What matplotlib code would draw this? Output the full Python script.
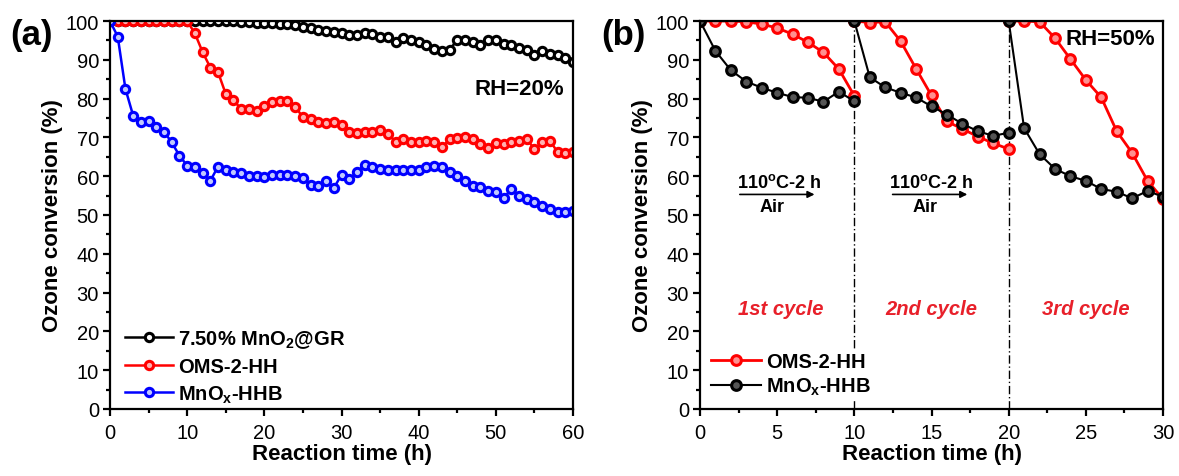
import numpy as np
import matplotlib
matplotlib.use("Agg")
from matplotlib import pyplot as plt
from matplotlib.ticker import MultipleLocator

plt.rcParams['font.family'] = ['Liberation Sans', 'DejaVu Sans']
plt.rcParams['mathtext.fontset'] = 'custom'
plt.rcParams['mathtext.bf'] = 'Liberation Sans:bold'
plt.rcParams['mathtext.rm'] = 'Liberation Sans:bold'

# ---- panel (a): RH = 20 %, hourly points 0..60 h
time_a = np.arange(0, 61)
gr_a = [100, 100, 100, 100, 100, 100, 100, 100, 100, 100,
        100, 100, 100, 100, 100, 100, 100, 99.8, 99.7, 99.6,
        99.5, 99.4, 99.2, 99.1, 99, 98.5, 98.2, 97.8, 97.5, 97.2,
        96.8, 96.3, 96.5, 96.8, 96.6, 96, 95.8, 94.7, 95.5, 95.2,
        94.6, 93.7, 92.9, 92.3, 92.5, 95.2, 95, 94.7, 93.7, 95.2,
        95, 94.2, 93.7, 93.1, 92.5, 91.2, 92.2, 91.6, 91.2, 90.5,
        89.5]
oms_a = [100, 100, 100, 100, 100, 100, 100, 100, 100, 100,
         100, 96.8, 92, 88, 86.8, 81.2, 79.6, 77.3, 77.3, 76.9,
         78, 79, 79.5, 79.4, 77.9, 75.2, 74.8, 74, 73.8, 73.9,
         73.2, 71.5, 71.2, 71.5, 71.3, 71.9, 71, 68.9, 69.6, 68.9,
         68.7, 69.2, 68.7, 67.4, 69.6, 69.8, 70, 69.6, 68.2, 67.2,
         68.6, 68.3, 68.7, 69.2, 69.6, 67, 68.7, 69.2, 66.2, 66,
         66.2]
hhb_a = [100, 96, 82.5, 75.6, 74, 74.3, 72.8, 71.5, 68.7, 65.3,
         62.7, 62.5, 60.8, 58.8, 62.5, 61.7, 61.2, 60.8, 60.1, 60,
         59.9, 60.4, 60.4, 60.3, 60, 59.5, 57.7, 57.6, 58.8, 56.9,
         60.4, 59.3, 61, 63, 62.3, 61.9, 61.7, 61.7, 61.7, 61.7,
         61.7, 62.3, 62.7, 62.3, 61.2, 60.1, 58.8, 57.6, 57.2, 56.3,
         55.9, 54.3, 56.7, 55, 54.1, 53.3, 52.4, 51.5, 50.7, 50.7,
         51]

# ---- panel (b): RH = 50 %, three regeneration cycles (NaN = break between cycles)
time_b = [0, 1, 2, 3, 4, 5, 6, 7, 8, 9, 10, np.nan,
          10, 11, 12, 13, 14, 15, 16, 17, 18, 19, 20, np.nan,
          20, 21, 22, 23, 24, 25, 26, 27, 28, 29, 30]
oms_b = [100, 100, 100, 99.8, 99.2, 98.2, 96.6, 94.5, 91.9, 87.6, 80.7, np.nan,
         100, 99.6, 99.8, 94.8, 87.7, 80.8, 74.1, 72.2, 70.2, 68.5, 67, np.nan,
         100, 100, 99.8, 95.6, 90.2, 84.8, 80.3, 71.6, 66, 58.8, 54.1]
hhb_b = [100, 92.3, 87.3, 84.4, 82.8, 81.5, 80.4, 80.2, 79.2, 81.8, 79.3, np.nan,
         100, 85.5, 82.9, 81.5, 80.3, 78, 75.9, 73.5, 71.6, 70.4, 71.2, np.nan,
         100, 72.4, 65.7, 61.9, 60, 58.8, 56.7, 56, 54.3, 56.2, 54.7]

cycle_names = ['1st cycle', '2nd cycle', '3rd cycle']
cycle_mid = [5.2, 15, 25]
cycle_breaks = [10, 20]

fig = plt.figure(figsize=(11.79, 4.77), dpi=100)
ax1 = fig.add_axes([110 / 1179, 67 / 477, 463 / 1179, 388 / 477])
ax2 = fig.add_axes([700 / 1179, 67 / 477, 463 / 1179, 388 / 477])


def ball(ax, x, y, color, label, ms=6, lw=1.8, face='white'):
    ax.plot(x, y, '-o', color=color, lw=lw, ms=ms, mfc=face, mec=color,
            mew=2.2, label=label)


ball(ax1, time_a, gr_a, 'black', r'7.50% MnO$_{\mathbf{2}}$@GR')
ball(ax1, time_a, oms_a, '#ff0000', 'OMS-2-HH', face='#ffb0b0')
ball(ax1, time_a, hhb_a, '#0000ff', r'MnO$_{\mathbf{x}}$-HHB', face='#c0c8ff')

for xb in cycle_breaks:
    ax2.axvline(xb, color='black', lw=1, ls=(0, (6, 2, 1, 2)), zorder=1)
ball(ax2, time_b, oms_b, '#ff0000', 'OMS-2-HH', ms=7, lw=2, face='#ff9090')
ball(ax2, time_b, hhb_b, 'black', r'MnO$_{\mathbf{x}}$-HHB', ms=7, lw=1.5, face='#555555')

for ax, xmax, xmaj in [(ax1, 60, 10), (ax2, 30, 5)]:
    ax.set_xlim(0, xmax)
    ax.set_ylim(0, 100)
    ax.xaxis.set_major_locator(MultipleLocator(xmaj))
    ax.xaxis.set_minor_locator(MultipleLocator(xmaj / 2))
    ax.yaxis.set_major_locator(MultipleLocator(10))
    ax.yaxis.set_minor_locator(MultipleLocator(5))
    ax.tick_params(which='both', direction='out', width=1.6, labelsize=14.5,
                   top=False, right=False)
    ax.tick_params(which='major', length=5, pad=3)
    ax.tick_params(axis='x', which='major', pad=5)
    ax.tick_params(which='minor', length=3)
    for sp in ax.spines.values():
        sp.set_linewidth(1.6)
    ax.set_xlabel('Reaction time (h)', fontsize=16, fontweight='bold', labelpad=1)
    ax.set_ylabel('Ozone conversion (%)', fontsize=16, fontweight='bold', labelpad=2)

leg1 = ax1.legend(loc='lower left', frameon=False, prop={'size': 14.5, 'weight': 'bold'},
                  handlelength=2.4, handletextpad=0.25, labelspacing=0.37,
                  borderaxespad=0.1, bbox_to_anchor=(0.01, -0.015))
leg2 = ax2.legend(loc='lower left', frameon=True, prop={'size': 14.5, 'weight': 'bold'},
                  handlelength=2.5, handletextpad=0.25, labelspacing=0.25,
                  borderaxespad=0.2, borderpad=0.1, fancybox=False,
                  bbox_to_anchor=(0.01, 0.015))
leg2.get_frame().set_edgecolor('none')
leg2.get_frame().set_alpha(1)

ax1.text(53, 82.5, 'RH=20%', fontsize=16, fontweight='bold', ha='center', va='center')
ax2.text(26.6, 95.5, 'RH=50%', fontsize=16, fontweight='bold', ha='center', va='center')

for x0 in [2.4, 12.3]:
    ax2.annotate('', xy=(x0 + 5.2, 55.3), xytext=(x0, 55.3),
                 arrowprops=dict(arrowstyle='-|>', color='black', lw=1.2,
                                 mutation_scale=10))
    ax2.text(x0 + 2.7, 56.3, '110$^{\\mathrm{o}}$C-2 h', fontsize=13, fontweight='bold',
             ha='center', va='bottom')
    ax2.text(x0 + 2.3, 54.3, 'Air', fontsize=13, fontweight='bold',
             ha='center', va='top')

for name, xm in zip(cycle_names, cycle_mid):
    ax2.text(xm, 26, name, fontsize=14.5, fontweight='bold', style='italic',
             color='#e8202a', ha='center', va='center')

fig.text(32 / 1179, 1 - 36 / 477, '(a)', fontsize=25, fontweight='bold',
         ha='center', va='center')
fig.text(623 / 1179, 1 - 36 / 477, '(b)', fontsize=25, fontweight='bold',
         ha='center', va='center')

fig.savefig('out.png', dpi=100)
